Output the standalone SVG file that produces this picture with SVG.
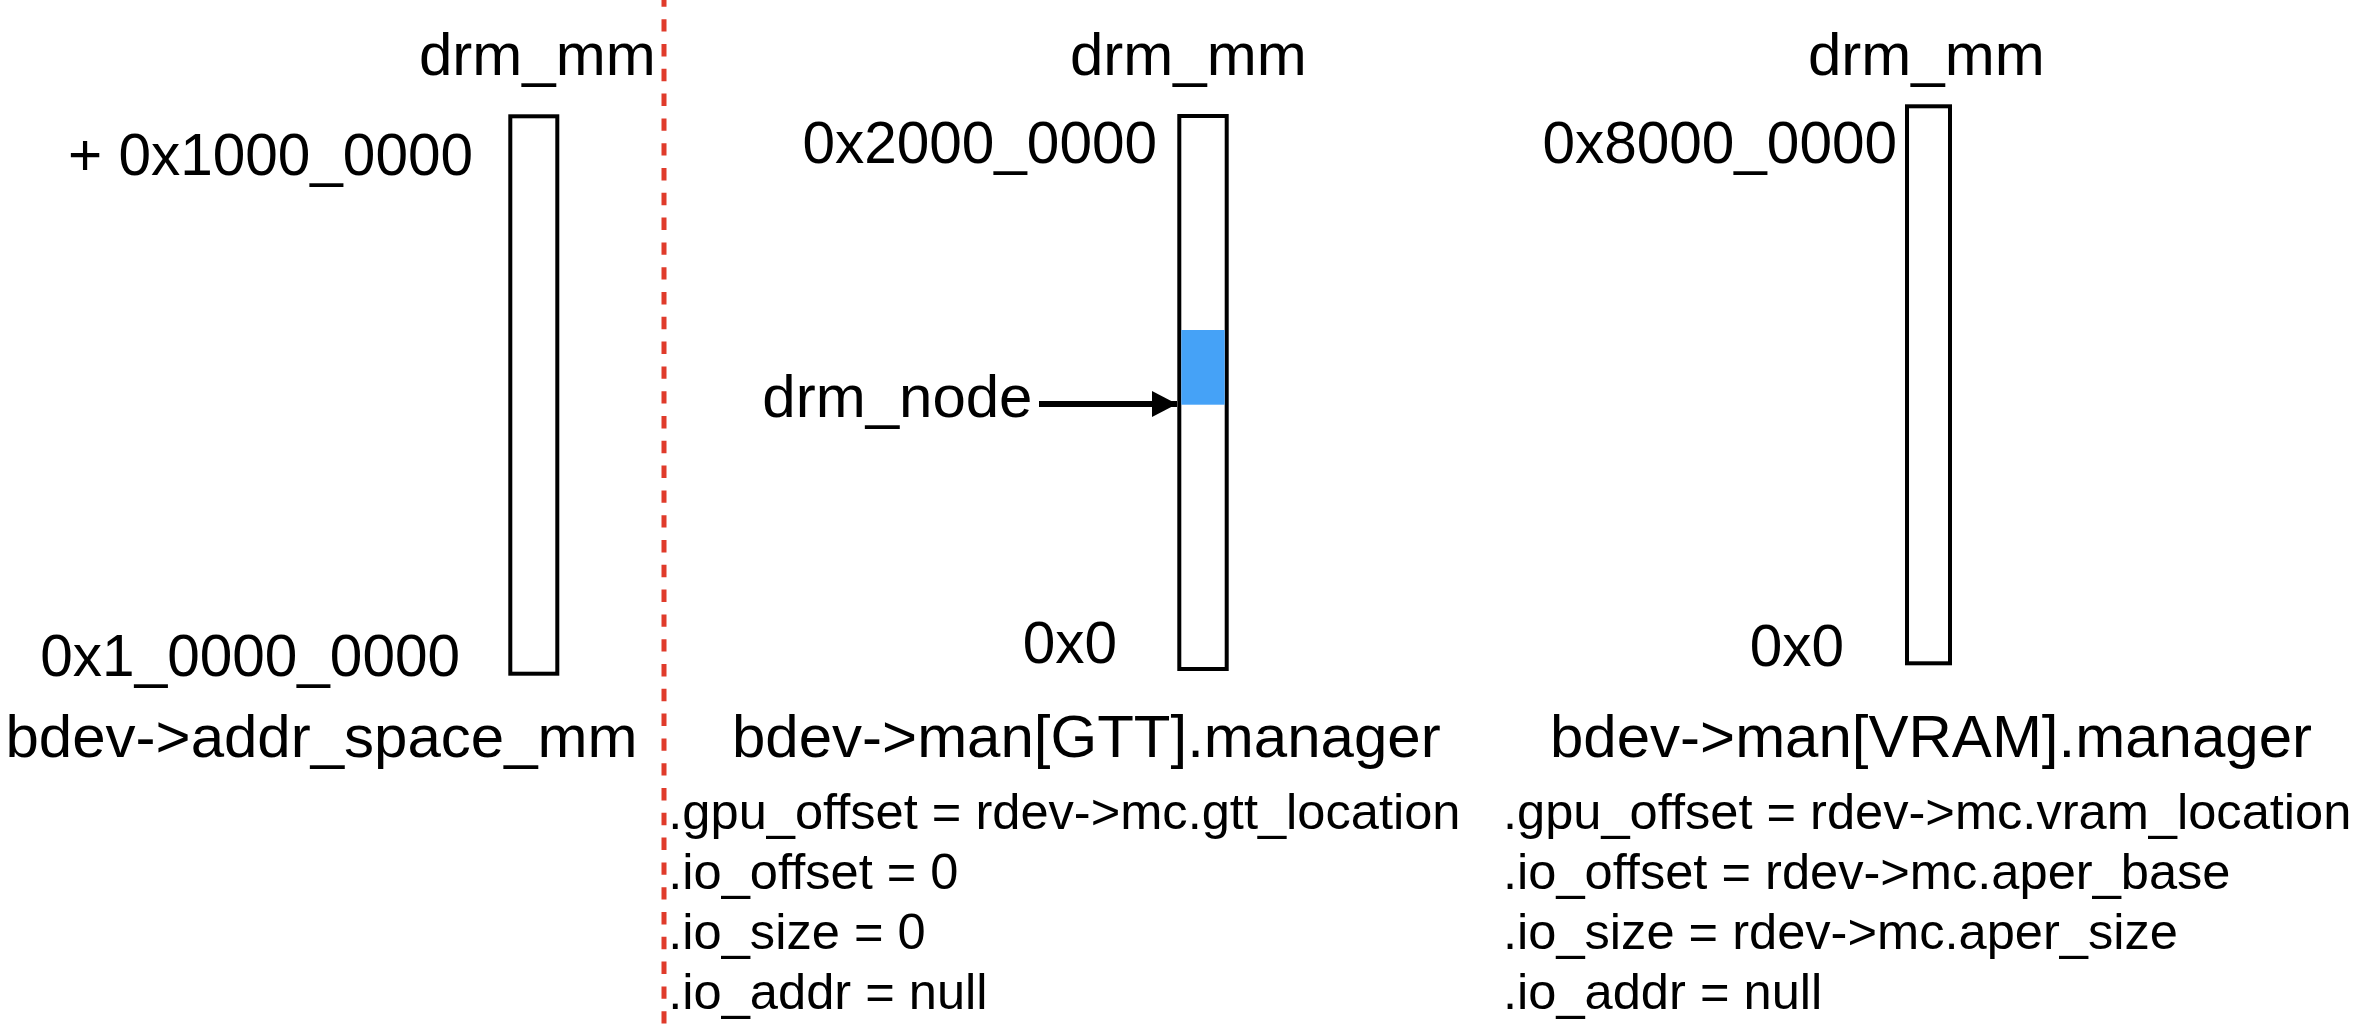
<svg xmlns="http://www.w3.org/2000/svg" width="2354" height="1036" viewBox="0 0 2354 1036">
  <style>
    text { font-family: "Liberation Sans", Arial, Helvetica, sans-serif; fill: #000; }
    .big { font-size: 60px; }
    .num { font-size: 58.5px; }
    .prop { font-size: 50.6px; }
    .mm { fill: #fff; stroke: #000; stroke-width: 4; }
    .node { fill: #45A2F7; stroke: none; }
    .divider { stroke: #E03B2B; stroke-width: 5; stroke-dasharray: 12.4 12.4; stroke-dashoffset: 5.6; fill: none; }
    .conn { stroke: #000; stroke-width: 6; fill: none; }
  </style>
  <defs>
    <marker id="arrowhead" markerUnits="userSpaceOnUse" markerWidth="26" markerHeight="27" refX="25" refY="13" orient="auto">
      <polygon points="0,0 25,13 0,26" fill="#000"/>
    </marker>
  </defs>
  <rect width="2354" height="1036" fill="#fff"/>

  <line id="divider" class="divider" x1="664" y1="0" x2="664" y2="1025"/>

  <g id="addr-space-mm">
    <text class="big" x="419" y="75">drm_mm</text>
    <rect class="mm" x="510.3" y="116.3" width="47" height="557.4"/>
    <text class="num" x="473" y="175" text-anchor="end">+ 0x1000_0000</text>
    <text class="num" x="460" y="676" text-anchor="end">0x1_0000_0000</text>
    <text class="big" x="5.5" y="757">bdev-&gt;addr_space_mm</text>
  </g>

  <g id="gtt-manager">
    <text class="big" x="1070" y="75">drm_mm</text>
    <rect class="mm" x="1179.3" y="116" width="47.4" height="553"/>
    <text class="num" x="1157" y="163" text-anchor="end">0x2000_0000</text>
    <text class="num" x="1117" y="663" text-anchor="end">0x0</text>
    <text class="big" x="732" y="757">bdev-&gt;man[GTT].manager</text>
    <text class="prop" x="668.3" y="829">.gpu_offset = rdev-&gt;mc.gtt_location</text>
    <text class="prop" x="668.3" y="889">.io_offset = 0</text>
    <text class="prop" x="668.3" y="949">.io_size = 0</text>
    <text class="prop" x="668.3" y="1009">.io_addr = null</text>
  </g>

  <g id="drm-node">
    <rect class="node" x="1181.3" y="330" width="43.4" height="74.7"/>
    <text class="big" x="1032.5" y="417" text-anchor="end">drm_node</text>
  </g>

  <g id="vram-manager">
    <text class="big" x="1808" y="75">drm_mm</text>
    <rect class="mm" x="1907" y="106.3" width="43" height="557"/>
    <text class="num" x="1897" y="163" text-anchor="end">0x8000_0000</text>
    <text class="num" x="1844" y="666" text-anchor="end">0x0</text>
    <text class="big" x="1550" y="757">bdev-&gt;man[VRAM].manager</text>
    <text class="prop" x="1503" y="829">.gpu_offset = rdev-&gt;mc.vram_location</text>
    <text class="prop" x="1503" y="889">.io_offset = rdev-&gt;mc.aper_base</text>
    <text class="prop" x="1503" y="949">.io_size = rdev-&gt;mc.aper_size</text>
    <text class="prop" x="1503" y="1009">.io_addr = null</text>
  </g>

  <g id="connectors">
    <line class="conn" x1="1039" y1="404" x2="1177" y2="404" marker-end="url(#arrowhead)"/>
  </g>
</svg>
